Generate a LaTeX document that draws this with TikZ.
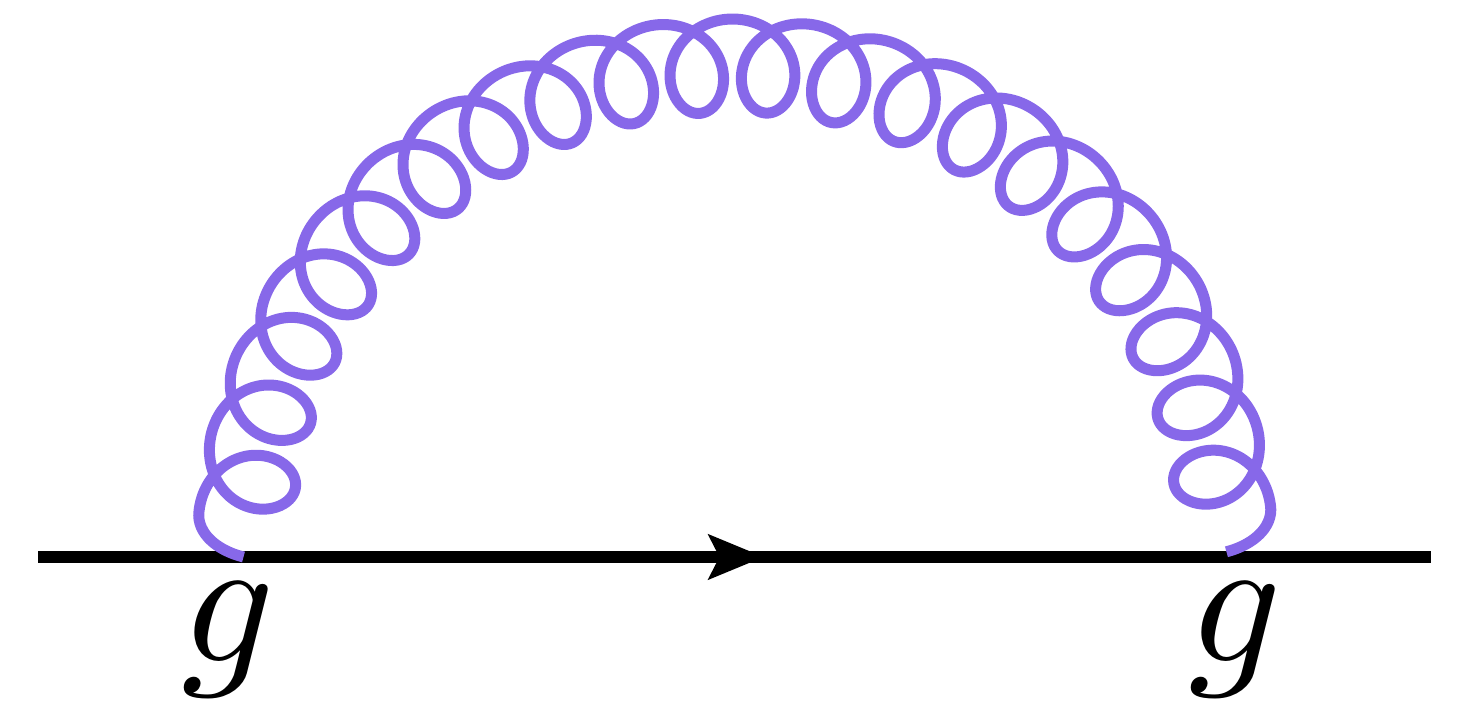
\documentclass[tikz,border=0pt]{standalone}
\usepackage{amsmath}
\usepackage{tikz}
\usetikzlibrary{arrows.meta,positioning}
\definecolor{gluonviolet}{HTML}{8768E9}
\begin{document}
\begin{tikzpicture}[
  x=0.01cm,y=-0.01cm,
  line join=round,
  >=Stealth,
  quark/.style={draw=black,line width=0.12cm},
  gluon/.style={draw=gluonviolet,line width=0.11cm},
  lab/.style={scale=5.2,inner sep=0pt},
  declare function={
    gluonwid(\t)=(\t<0||\t>7200)?22:44;
    gluonang(\t)=deg((22+(1539-44)/7380*(\t+90)+gluonwid(\t)*sin(\t))/491.5);
    gluonrad(\t)=491.5+46.5*cos(\t);
  }
]
\useasboundingbox (0,0) rectangle (1459,701);

% External points
\coordinate (in) at (38,557);
\coordinate (out) at (1431,557);
\coordinate (VL) at (245,557);
\coordinate (VR) at (1225,557);
\coordinate (mid) at (764,557);

% Quark line with arrow in the middle
\draw[quark] (in) -- (out);
\draw[quark,-{Stealth[length=0.55cm,width=0.44cm,inset=0.106cm]}] (VL) -- (mid);

% Gluon loop, 20 windings between the two vertices
\draw[gluon] plot[domain=-90:7290,samples=1200,smooth,variable=\t]
  ({735-gluonrad(\t)*cos(gluonang(\t))},{557-gluonrad(\t)*sin(gluonang(\t))});

% Labels
\node[lab] (gL) at (228,640) {$g$};
\node[lab] (gR) at (1235,640) {$g$};
\end{tikzpicture}
\end{document}
